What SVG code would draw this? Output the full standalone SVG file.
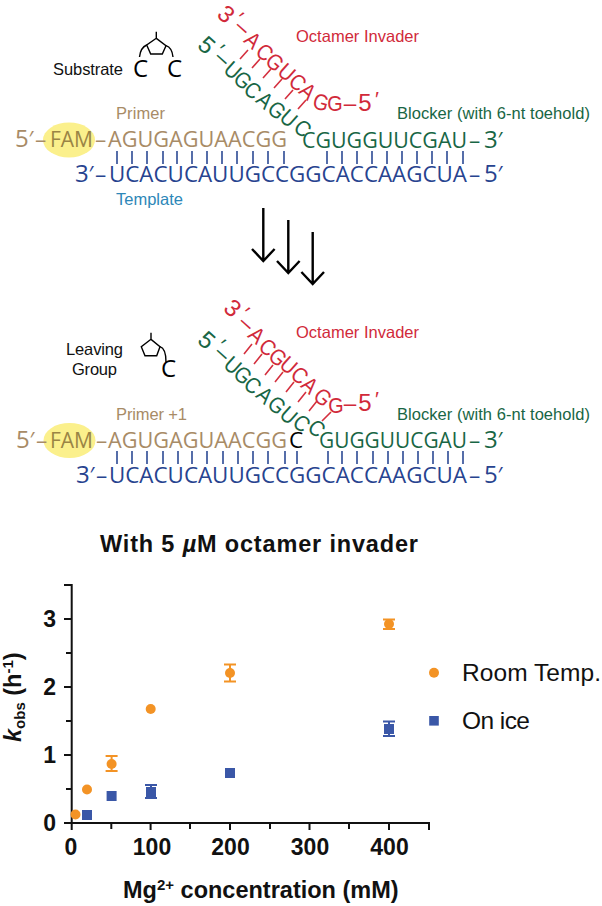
<svg xmlns="http://www.w3.org/2000/svg" width="602" height="906" viewBox="0 0 602 906">
<style>
text{font-family:"Liberation Sans",Arial,sans-serif}
.n{font-family:"Open Sans","Noto Sans",sans-serif;font-size:22.5px}
.dg{font-size:24px}
.pr{font-size:21px;font-style:italic}
.d{text-anchor:middle;dominant-baseline:central}
.lb{font-size:16.5px}
.prim{fill:#a88b66}.fam{fill:#9a8445}.tmpl{fill:#27438f}.blk{fill:#186645}.inv{fill:#d12a3a}.k{fill:#000}
.tk-b{stroke:#2c4a94;stroke-width:1.6}
.tk-r{stroke:#d4303f;stroke-width:1.6}
.mol{fill:none;stroke:#000;stroke-width:1.4}
.arrow{fill:none;stroke:#000;stroke-width:2.4}
.axis{fill:none;stroke:#111;stroke-width:2}
.tl{font-size:23px;font-weight:bold;fill:#111}
.m{text-anchor:middle}
.e{text-anchor:end}
.or{fill:#f39325}.bl{fill:#3a57a7}
.eo{stroke:#f39325;stroke-width:2;fill:none}.eb{stroke:#3a57a7;stroke-width:2;fill:none}
.leg{font-size:24.5px;fill:#111}
</style>
<rect width="602" height="906" fill="#fff"/>

<g id="complex-top">
<ellipse cx="69" cy="140" rx="26" ry="17.5" fill="#fbf08c"/>
<text class="n prim" y="147"><tspan class="dg" x="15">5</tspan><tspan class="pr" x="28">′</tspan><tspan x="35">–</tspan><tspan class="fam" x="50" textLength="43" lengthAdjust="spacingAndGlyphs">FAM</tspan><tspan x="95">–</tspan><tspan x="108" textLength="179" lengthAdjust="spacingAndGlyphs">AGUGAGUAACGG</tspan></text>
<text class="n blk" y="148"><tspan x="302" textLength="165" lengthAdjust="spacingAndGlyphs">CGUGGUUCGAU</tspan><tspan x="469">–</tspan><tspan class="dg" x="484">3</tspan><tspan class="pr" x="497">′</tspan></text>
<text class="n tmpl" y="182"><tspan class="dg" x="75">3</tspan><tspan class="pr" x="88">′</tspan><tspan x="95">–</tspan><tspan x="109" textLength="358" lengthAdjust="spacingAndGlyphs">UCACUCAUUGCCGGCACCAAGCUA</tspan><tspan x="469">–</tspan><tspan class="dg" x="484">5</tspan><tspan class="pr" x="497">′</tspan></text>
<path class="tk-b" d="M117 151v13M132 151v13M147 151v13M163 151v13M177 151v13M192 151v13M207 151v13M222 151v13M237 151v13M253 151v13M268 151v13M284 151v13M327 151v13M342 151v13M357 151v13M372 151v13M387 151v13M402 151v13M417 151v13M432 151v13M447 151v13M463 151v13"/>
<path class="tk-r" d="M240 59l8-9M252 68l8-9M263 78l8-9M274 88l8-9M285 99l8-9M298 109l8-9"/>
<g class="n inv">
<text class="d dg" transform="translate(226.5 14) rotate(42)">3</text>
<text class="d pr" transform="translate(238 17) rotate(42)">′</text>
<text class="d" transform="translate(243 27) rotate(42)">–</text>
<text class="d" transform="translate(253 40) rotate(42) scale(.88 1)">A</text>
<text class="d" transform="translate(265 52) rotate(42) scale(.88 1)">C</text>
<text class="d" transform="translate(275 62) rotate(42) scale(.88 1)">G</text>
<text class="d" transform="translate(287 72) rotate(42) scale(.88 1)">U</text>
<text class="d" transform="translate(298 82) rotate(42) scale(.88 1)">C</text>
<text class="d" transform="translate(308 91) rotate(42) scale(.88 1)">A</text>
<text class="d" transform="translate(321 102) rotate(15) scale(.88 1)">G</text>
<text class="d" transform="translate(335 103) scale(.88 1)">G</text>
<text class="d" transform="translate(350 103)">–</text>
<text class="d dg" transform="translate(365 102)">5</text>
<text class="d pr" transform="translate(376 98)">′</text>
</g>
<g class="n blk">
<text class="d dg" transform="translate(207 45) rotate(42)">5</text>
<text class="d pr" transform="translate(219 49) rotate(42)">′</text>
<text class="d" transform="translate(223 58) rotate(42)">–</text>
<text class="d" transform="translate(233 70) rotate(42) scale(.88 1)">U</text>
<text class="d" transform="translate(243 80) rotate(42) scale(.88 1)">G</text>
<text class="d" transform="translate(253 90) rotate(42) scale(.88 1)">C</text>
<text class="d" transform="translate(265 100) rotate(42) scale(.88 1)">A</text>
<text class="d" transform="translate(277 110) rotate(42) scale(.88 1)">G</text>
<text class="d" transform="translate(289 118) rotate(42) scale(.88 1)">U</text>
<text class="d" transform="translate(303 128) rotate(42) scale(.88 1)">C</text>
</g>
</g>

<g id="labels-top">
<text class="lb prim" x="116" y="119" textLength="49">Primer</text>
<text class="lb inv" x="296" y="42" textLength="123">Octamer Invader</text>
<text class="lb blk" x="397" y="119" textLength="193">Blocker (with 6-nt toehold)</text>
<text class="lb" fill="#2d87b8" x="116" y="205" textLength="67">Template</text>
<text class="lb" fill="#111" x="53" y="75" textLength="70">Substrate</text>
</g>

<g id="substrate-mol">
<path class="mol" d="M156.3 31.7V38.3L166 45.7L162.3 54H150.7L146.7 45L156.3 38.3"/>
<path class="mol" d="M146.7 45C142 47 140 52 139.5 57M166 45.7C170 47 172.5 52 173 57"/>
<text class="n k dg" x="133" y="77">C</text>
<text class="n k dg" x="167" y="77">C</text>
</g>

<g id="arrows">
<path class="arrow" d="M263.3 208V261M252 249L263.3 261L274.6 249"/>
<path class="arrow" d="M288.3 220V273M277 261L288.3 273L299.6 261"/>
<path class="arrow" d="M312.7 232V284M301.4 272L312.7 284L324 272"/>
</g>

<g id="complex-bottom">
<ellipse cx="69.5" cy="440.5" rx="26" ry="17.5" fill="#fbf08c"/>
<text class="n prim" y="448"><tspan class="dg" x="16">5</tspan><tspan class="pr" x="29">′</tspan><tspan x="36">–</tspan><tspan class="fam" x="50" textLength="43" lengthAdjust="spacingAndGlyphs">FAM</tspan><tspan x="96">–</tspan><tspan x="108" textLength="179" lengthAdjust="spacingAndGlyphs">AGUGAGUAACGG</tspan></text>
<text class="n k" x="289" y="448">C</text>
<text class="n blk" y="448"><tspan x="319" textLength="148" lengthAdjust="spacingAndGlyphs">GUGGUUCGAU</tspan><tspan x="469">–</tspan><tspan class="dg" x="484">3</tspan><tspan class="pr" x="497">′</tspan></text>
<text class="n tmpl" y="483"><tspan class="dg" x="76">3</tspan><tspan class="pr" x="89">′</tspan><tspan x="96">–</tspan><tspan x="109" textLength="358" lengthAdjust="spacingAndGlyphs">UCACUCAUUGCCGGCACCAAGCUA</tspan><tspan x="469">–</tspan><tspan class="dg" x="484">5</tspan><tspan class="pr" x="497">′</tspan></text>
<path class="tk-b" d="M117 451v13M132 451v13M147 451v13M163 451v13M178 451v13M192 451v13M207 451v13M223 451v13M238 451v13M253 451v13M268 451v13M285 451v13M297 451v13M328 451v13M342 451v13M357 451v13M373 451v13M388 451v13M403 451v13M418 451v13M433 451v13M448 451v13M463 451v13"/>
<path class="tk-r" d="M244 354l8-10M254 364l8-10M265 375l8-10M275 382l8-10M286 392l8-10M298 402l8-10M309 411l8-10M322 421l9-9"/>
<g class="n inv">
<text class="d dg" transform="translate(233 308) rotate(42)">3</text>
<text class="d pr" transform="translate(244 312) rotate(42)">′</text>
<text class="d" transform="translate(247 323) rotate(42)">–</text>
<text class="d" transform="translate(257 335) rotate(42) scale(.88 1)">A</text>
<text class="d" transform="translate(268 347) rotate(42) scale(.88 1)">C</text>
<text class="d" transform="translate(278 357) rotate(42) scale(.88 1)">G</text>
<text class="d" transform="translate(289 365) rotate(42) scale(.88 1)">U</text>
<text class="d" transform="translate(300 375) rotate(42) scale(.88 1)">C</text>
<text class="d" transform="translate(310 385) rotate(42) scale(.88 1)">A</text>
<text class="d" transform="translate(323 397) rotate(42) scale(.88 1)">G</text>
<text class="d" transform="translate(336 405) scale(.88 1)">G</text>
<text class="d" transform="translate(350 403)">–</text>
<text class="d dg" transform="translate(365 402)">5</text>
<text class="d pr" transform="translate(376 398)">′</text>
</g>
<g class="n blk">
<text class="d dg" transform="translate(207 340) rotate(42)">5</text>
<text class="d pr" transform="translate(220 344) rotate(42)">′</text>
<text class="d" transform="translate(223 353) rotate(42)">–</text>
<text class="d" transform="translate(233 365) rotate(42) scale(.88 1)">U</text>
<text class="d" transform="translate(243 375) rotate(42) scale(.88 1)">G</text>
<text class="d" transform="translate(253 385) rotate(42) scale(.88 1)">C</text>
<text class="d" transform="translate(265 395) rotate(42) scale(.88 1)">A</text>
<text class="d" transform="translate(277 405) rotate(42) scale(.88 1)">G</text>
<text class="d" transform="translate(289 415) rotate(42) scale(.88 1)">U</text>
<text class="d" transform="translate(302 423) rotate(42) scale(.88 1)">C</text>
<text class="d" transform="translate(317 428) rotate(42) scale(.88 1)">C</text>
</g>
</g>

<g id="labels-bottom">
<text class="lb prim" x="116" y="420" textLength="71">Primer +1</text>
<text class="lb inv" x="296" y="338" textLength="123">Octamer Invader</text>
<text class="lb blk" x="397" y="420" textLength="193">Blocker (with 6-nt toehold)</text>
<text class="lb" fill="#111" x="66" y="355" textLength="57">Leaving</text>
<text class="lb" fill="#111" x="72" y="375" textLength="45">Group</text>
</g>

<g id="leaving-mol">
<path class="mol" d="M151 332.7V339.3L160 346.7L156.7 355.7H145L141.3 346.7L151 339.3"/>
<path class="mol" d="M160 346.7C164 348 166 353 166 362"/>
<text class="n k dg" x="161" y="377">C</text>
</g>

<g id="chart">
<text x="100" y="552" font-size="23.5" font-weight="bold" fill="#111" textLength="318">With 5 <tspan font-style="italic">µ</tspan>M octamer invader</text>
<path class="axis" d="M64 585H71.7V823H429V830M64 619H71.7M66 653H71.7M64 687H71.7M66 721H71.7M64 755H71.7M66 789H71.7M64 823H71.7M71.7 823V830M111.3 823V829M150.6 823V830M190 823V829M230 823V830M270 823V829M309.5 823V830M349 823V829M389 823V830"/>
<text class="tl e" x="56" y="627">3</text>
<text class="tl e" x="56" y="695">2</text>
<text class="tl e" x="56" y="763">1</text>
<text class="tl e" x="56" y="831">0</text>
<text class="tl m" x="71" y="855">0</text>
<text class="tl m" x="152" y="855">100</text>
<text class="tl m" x="230.5" y="855">200</text>
<text class="tl m" x="310" y="855">300</text>
<text class="tl m" x="389.5" y="855">400</text>
<text font-size="23.5" font-weight="bold" fill="#111" x="123" y="898">Mg<tspan font-size="15" dy="-8">2+</tspan><tspan dy="8"> concentration (mM)</tspan></text>
<text font-size="23.5" font-weight="bold" fill="#111" transform="translate(21 742) rotate(-90)"><tspan font-style="italic">k</tspan><tspan font-size="15" dy="4">obs</tspan><tspan dy="-4"> (h</tspan><tspan font-size="15" dy="-8">-1</tspan><tspan dy="8">)</tspan></text>

<path class="eo" d="M105.6 756h12M105.6 771h12M111.6 756v15M224 664.5h12M224 681.5h12M230 664.5v17M383 619.5h12M383 629h12M389 619.5v9.5"/>
<path class="eb" d="M145 785h12M145 798h12M151 785v13M383 721.5h12M383 736h12M389 721.5v14.5"/>
<circle class="or" cx="75.5" cy="814.5" r="5"/>
<circle class="or" cx="87" cy="789.5" r="5"/>
<circle class="or" cx="111.6" cy="764" r="5"/>
<circle class="or" cx="150.7" cy="709" r="5"/>
<circle class="or" cx="230" cy="673" r="5"/>
<circle class="or" cx="389" cy="624" r="5"/>
<rect class="bl" x="82" y="810" width="10" height="10"/>
<rect class="bl" x="106.6" y="791" width="10" height="10"/>
<rect class="bl" x="146" y="787" width="10" height="10"/>
<rect class="bl" x="225" y="768" width="10" height="10"/>
<rect class="bl" x="384" y="724" width="10" height="10"/>
<circle class="or" cx="434" cy="672.7" r="5"/>
<rect class="bl" x="429.2" y="716" width="9.6" height="9.6"/>
<text class="leg" x="462" y="681" textLength="139">Room Temp.</text>
<text class="leg" x="462" y="729" textLength="68">On ice</text>
</g>
</svg>
